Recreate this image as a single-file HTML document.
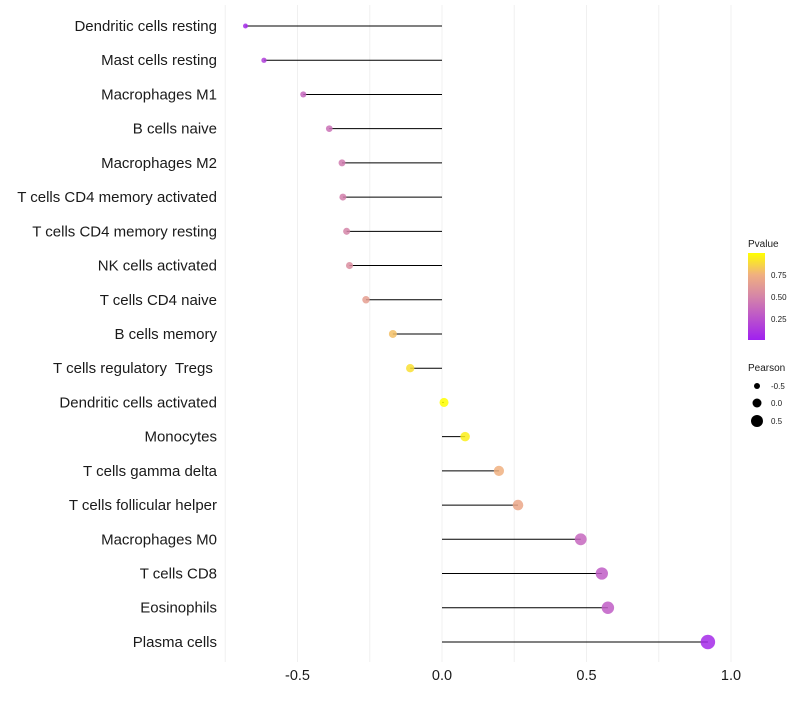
<!DOCTYPE html>
<html><head><meta charset="utf-8"><style>
body{margin:0;background:#fff;font-family:"Liberation Sans",sans-serif}
</style></head><body>
<svg id="chart" width="800" height="700" xmlns="http://www.w3.org/2000/svg" font-family="Liberation Sans, sans-serif"></svg>
<script>
const categories=["Dendritic cells resting","Mast cells resting","Macrophages M1","B cells naive","Macrophages M2","T cells CD4 memory activated","T cells CD4 memory resting","NK cells activated","T cells CD4 naive","B cells memory","T cells regulatory  Tregs ","Dendritic cells activated","Monocytes","T cells gamma delta","T cells follicular helper","Macrophages M0","T cells CD8","Eosinophils","Plasma cells"];
const pearson=[-0.68,-0.616,-0.48,-0.39,-0.346,-0.343,-0.33,-0.32,-0.263,-0.17,-0.11,0.007,0.08,0.197,0.263,0.48,0.553,0.574,0.92];
const pvalues=[0.05,0.15,0.35,0.4,0.45,0.47,0.5,0.55,0.65,0.8,0.9,1.0,0.95,0.75,0.7,0.35,0.3,0.3,0.05];
const xTicks=[-0.5,0,0.5,1.0];
const xTickLabels=["-0.5","0.0","0.5","1.0"];
const NS="http://www.w3.org/2000/svg";
const svg=document.getElementById('chart');
function x(v){return 442+v*289;}
function y(i){return 26+i*34.22;}
function r(v){return 4.5+3*v;}
const stops=[[0,[160,32,240]],[0.5,[213,133,168]],[0.75,[240,176,128]],[1,[255,255,0]]];
function col(p){for(let i=1;i<stops.length;i++){if(p<=stops[i][0]){const a=stops[i-1],b=stops[i];const t=(p-a[0])/(b[0]-a[0]);const c=a[1].map((v,k)=>Math.round(v+(b[1][k]-v)*t));return `rgb(${c})`;}}return 'rgb(255,255,0)';}
function mk(t,a){const e=document.createElementNS(NS,t);for(const k in a)e.setAttribute(k,a[k]);svg.appendChild(e);return e;}
[-0.75,-0.5,-0.25,0,0.25,0.5,0.75,1.0].forEach(v=>{
const g=mk('line',{x1:x(v),x2:x(v),y1:5,y2:662,stroke:'#f0f0f0','stroke-width':1});


});
xTicks.forEach((v,i)=>{
const t=mk('text',{x:x(v),y:680,'text-anchor':'middle','font-size':14.5,fill:'#1a1a1a'});t.textContent=xTickLabels[i];


});
categories.forEach((c,i)=>{
const t=mk('text',{x:217,y:y(i)+5,'text-anchor':'end','font-size':15,fill:'#1a1a1a'});t.textContent=c;
t.setAttribute('xml:space','preserve');
t.style.whiteSpace='pre';


const l=mk('line',{x1:x(0),x2:x(pearson[i]),y1:y(i),y2:y(i),stroke:'#000','stroke-width':1});


const d=mk('circle',{cx:x(pearson[i]),cy:y(i),r:r(pearson[i]),fill:col(pvalues[i]),'fill-opacity':0.85});


});
let t=mk('text',{x:748,y:247,'font-size':10,fill:'#1a1a1a'});t.textContent='Pvalue';


const defs=mk('defs',{});
defs.innerHTML='<linearGradient id="gr" x1="0" y1="1" x2="0" y2="0"><stop offset="0" stop-color="rgb(160,32,240)"/><stop offset="0.5" stop-color="rgb(213,133,168)"/><stop offset="0.75" stop-color="rgb(240,176,128)"/><stop offset="1" stop-color="rgb(255,255,0)"/></linearGradient>';
const bar=mk('rect',{x:748,y:253,width:17,height:87,fill:'url(#gr)'});


[["0.75",275],["0.50",297],["0.25",319]].forEach(([s,yy])=>{
const tt=mk('text',{x:771,y:yy+3,'font-size':8,fill:'#1a1a1a'});tt.textContent=s;


});
t=mk('text',{x:748,y:371,'font-size':10,fill:'#1a1a1a'});t.textContent='Pearson';


[[-0.5,"-0.5",386],[0,"0.0",403],[0.5,"0.5",421]].forEach(([v,s,yy])=>{
const c=mk('circle',{cx:757,cy:yy,r:r(v),fill:'#000'});


const tt=mk('text',{x:771,y:yy+3,'font-size':8,fill:'#1a1a1a'});tt.textContent=s;


});
</script>
</body></html>
